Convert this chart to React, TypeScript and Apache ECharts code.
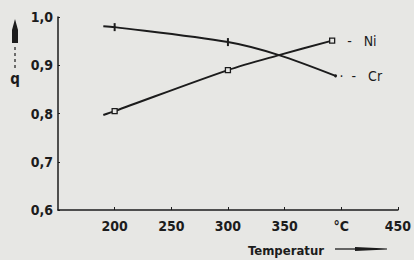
import React, { useEffect, useRef } from "react";
import * as echarts from "echarts";

const xTicks = [150, 200, 250, 300, 350, 400, 450];
const yTicks = [0.6, 0.7, 0.8, 0.9, 1.0];
const crTemps = [190, 200, 300, 345, 395];
const crValues = [0.981, 0.979, 0.948, 0.921, 0.878];
const crSymbols = ["none", "rect", "rect", "none", "circle"];
const niTemps = [190, 200, 300, 345, 392];
const niValues = [0.797, 0.805, 0.89, 0.921, 0.951];
const niSymbols = ["none", "rect", "rect", "none", "rect"];

const BG = "#e7e7e4";
const INK = "#1c1c1c";
const FONT = '"DejaVu Sans Condensed", "Liberation Sans Narrow", "Liberation Sans", sans-serif';

export default function App() {
  const ref = useRef<HTMLDivElement>(null);
  useEffect(() => {
    if (!ref.current) return;
    const chart = echarts.init(ref.current, null, { renderer: "svg" });
    const crData = crTemps.map((t, i) => ({
      value: [t, crValues[i]],
      symbol: crSymbols[i],
      symbolSize: crSymbols[i] === "rect" ? [2, 8] : 3,
      itemStyle: { color: INK, borderWidth: 0 },
    }));
    const niData = niTemps.map((t, i) => ({
      value: [t, niValues[i]],
      symbol: niSymbols[i],
      symbolSize: 5,
      itemStyle: { color: BG, borderColor: INK, borderWidth: 1.3 },
    }));
    const labelFont = {
      color: INK,
      fontFamily: FONT,
      fontSize: 14,
      fontWeight: "bold" as const,
    };
    chart.setOption({
      animation: false,
      backgroundColor: BG,
      grid: { left: 58, right: 9, top: 17, bottom: 50, containLabel: false },
      xAxis: {
        type: "value",
        min: 150,
        max: 450,
        interval: 50,
        axisLine: { lineStyle: { color: INK, width: 1.5 } },
        axisTick: { show: true, inside: true, length: 3, lineStyle: { color: INK } },
        splitLine: { show: false },
        axisLabel: {
          ...labelFont,
          showMinLabel: false,
          margin: 9,
          formatter: (v: number) => (v === 400 ? "°C" : String(v)),
        },
      },
      yAxis: {
        type: "value",
        min: 0.6,
        max: 1.0,
        interval: 0.1,
        axisLine: { show: true, lineStyle: { color: INK, width: 1.5 } },
        axisTick: { show: true, inside: true, length: 2, lineStyle: { color: INK } },
        splitLine: { show: false },
        axisLabel: {
          ...labelFont,
          margin: 5,
          formatter: (v: number) => v.toFixed(1).replace(".", ","),
        },
      },
      series: [
        {
          name: "Cr",
          type: "line",
          smooth: 0.3,
          data: crData,
          lineStyle: { color: INK, width: 2 },
          endLabel: {
            show: true,
            formatter: "·  -   Cr",
            ...labelFont,
            fontWeight: "normal",
            distance: 4,
          },
        },
        {
          name: "Ni",
          type: "line",
          smooth: 0.3,
          data: niData,
          lineStyle: { color: INK, width: 2 },
          endLabel: {
            show: true,
            formatter: "-   Ni",
            ...labelFont,
            fontWeight: "normal",
            distance: 15,
          },
        },
      ],
      graphic: [
        {
          type: "polygon",
          shape: { points: [[15, 19], [12, 30], [12, 43], [18, 43], [18, 30]] },
          style: { fill: INK },
        },
        {
          type: "line",
          shape: { x1: 15, y1: 47, x2: 15, y2: 70 },
          style: { stroke: INK, lineWidth: 1.2, lineDash: [3, 3] },
        },
        {
          type: "text",
          x: 15,
          y: 79,
          style: {
            text: "q",
            fill: INK,
            font: `bold 15px ${FONT}`,
            align: "center",
            verticalAlign: "middle",
          },
        },
        {
          type: "text",
          x: 286,
          y: 250,
          style: {
            text: "Temperatur",
            fill: INK,
            font: `bold 13px ${FONT}`,
            align: "center",
            verticalAlign: "middle",
          },
        },
        {
          type: "line",
          shape: { x1: 335, y1: 249, x2: 365, y2: 249 },
          style: { stroke: INK, lineWidth: 1.3 },
        },
        {
          type: "polygon",
          shape: { points: [[355, 247], [387, 248.5], [387, 249.5], [355, 251]] },
          style: { fill: INK },
        },
      ],
    });
    return () => chart.dispose();
  }, []);
  return (
    <div
      ref={ref}
      style={{ position: "absolute", left: 0, top: 0, width: 414, height: 260, background: BG }}
    />
  );
}
